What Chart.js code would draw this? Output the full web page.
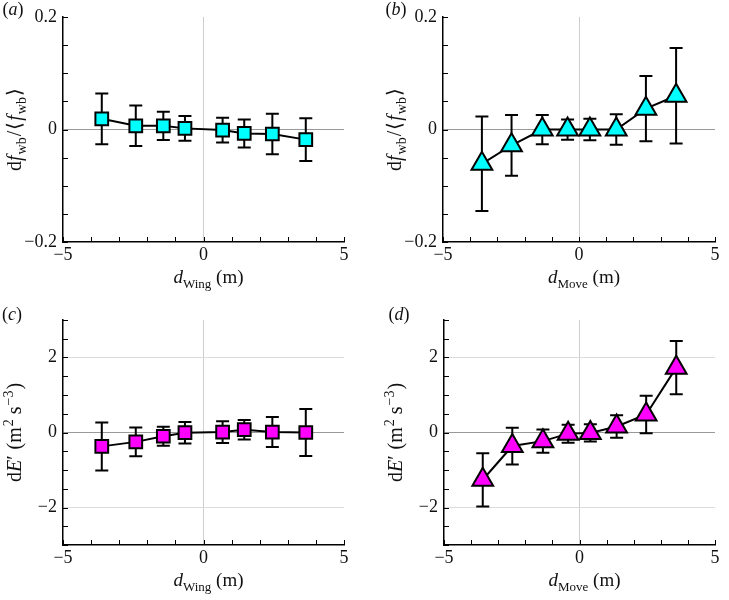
<!DOCTYPE html>
<html>
<head>
<meta charset="utf-8">
<script src="https://cdn.jsdelivr.net/npm/chart.js@4"></script>
<style>
  body { margin: 0; background: #fff; }
  #wrap { position: relative; width: 729px; height: 600px; }
  .panel { position: absolute; }
</style>
</head>
<body>
<div id="wrap">
  <div class="panel" style="left:0;top:0"><canvas id="chartA" width="364" height="300"></canvas></div>
  <div class="panel" style="left:364px;top:0"><canvas id="chartB" width="365" height="300"></canvas></div>
  <div class="panel" style="left:0;top:300px"><canvas id="chartC" width="364" height="300"></canvas></div>
  <div class="panel" style="left:364px;top:300px"><canvas id="chartD" width="365" height="300"></canvas></div>
</div>
<script>
// positions of the wing / move bins (m)
const wingX = [-3.62, -2.41, -1.43, -0.66, 0.68, 1.45, 2.45, 3.64];
const moveX = [-3.57, -2.48, -1.35, -0.42, 0.40, 1.37, 2.46, 3.57];

// (a) df_wb/<f_wb> vs d_Wing
const freqWing = [0.019, 0.0065, 0.0065, 0.002, -0.001, -0.007, -0.008, -0.018];
const freqWingErr = [0.045, 0.036, 0.025, 0.022, 0.022, 0.025, 0.036, 0.038];
// (b) df_wb/<f_wb> vs d_Move
const freqMove = [-0.061, -0.028, 0.0, 0.0, 0.0, 0.0, 0.037, 0.060];
const freqMoveErr = [0.084, 0.054, 0.026, 0.018, 0.019, 0.027, 0.058, 0.085];
// (c) dE' vs d_Wing
const dissWing = [-0.37, -0.25, -0.10, -0.005, 0.013, 0.076, 0.013, 0.0];
const dissWingErr = [0.64, 0.385, 0.255, 0.285, 0.29, 0.26, 0.40, 0.625];
// (d) dE' vs d_Move
const dissMove = [-1.26, -0.36, -0.23, -0.03, -0.013, 0.16, 0.48, 1.73];
const dissMoveErr = [0.71, 0.49, 0.31, 0.24, 0.23, 0.30, 0.50, 0.71];

const xTickLabels = [-5, 0, 5];
const freqTickLabels = [-0.2, 0, 0.2];
const dissTickLabels = [-2, 0, 2];

const serif = '"Liberation Serif", "Times New Roman", serif';
const TICK_FS = 18;

function fmt(v) {
    return v < 0 ? '\u2212' + String(-v) : String(v);
}
function isLabel(v, list) {
    return list.some(l => Math.abs(l - v) < 1e-9);
}

// draw a run of text pieces: {t, it, sub, sup}, centred on x
function setFont(ctx, s, fs) {
    const size = (s.sub || s.sup) ? Math.round(fs * 0.68) : fs;
    ctx.font = (s.it ? 'italic ' : '') + size + 'px ' + serif;
}
function drawRich(ctx, segs, x, y, fs) {
    let w = 0;
    segs.forEach(s => { setFont(ctx, s, fs); w += ctx.measureText(s.t).width + (s.gap || 0); });
    let cx = x - w / 2;
    segs.forEach(s => {
        setFont(ctx, s, fs);
        const dy = s.sub ? fs * 0.25 : (s.sup ? -fs * 0.4 : 0);
        ctx.fillText(s.t, cx, y + dy);
        cx += ctx.measureText(s.t).width + (s.gap || 0);
    });
}

const errorBars = {
    id: 'errorBars',
    beforeDatasetsDraw(chart) {
        const ctx = chart.ctx;
        const yScale = chart.scales.y;
        chart.data.datasets.forEach((ds, di) => {
            const meta = chart.getDatasetMeta(di);
            ctx.save();
            ctx.strokeStyle = '#000';
            ctx.lineWidth = 2;
            meta.data.forEach((pt, i) => {
                const v = ds.data[i].y, e = ds.errors[i];
                const top = yScale.getPixelForValue(v + e);
                const bot = yScale.getPixelForValue(v - e);
                ctx.beginPath();
                ctx.moveTo(pt.x, top); ctx.lineTo(pt.x, bot);
                ctx.moveTo(pt.x - 6.5, top); ctx.lineTo(pt.x + 6.5, top);
                ctx.moveTo(pt.x - 6.5, bot); ctx.lineTo(pt.x + 6.5, bot);
                ctx.stroke();
            });
            ctx.restore();
        });
    }
};

const decorations = {
    id: 'decorations',
    afterDraw(chart, args, opts) {
        const ctx = chart.ctx;
        const a = chart.chartArea;
        const xs = chart.scales.x, ys = chart.scales.y;
        ctx.save();
        // inward tick marks
        ctx.strokeStyle = '#000';
        ctx.lineWidth = 1;
        ctx.beginPath();
        xs.ticks.forEach(t => {
            const px = Math.round(xs.getPixelForValue(t.value)) + 0.5;
            ctx.moveTo(px, a.bottom); ctx.lineTo(px, a.bottom - 5);
        });
        ys.ticks.forEach(t => {
            const py = Math.round(ys.getPixelForValue(t.value)) + 0.5;
            ctx.moveTo(a.left, py); ctx.lineTo(a.left + 5, py);
        });
        ctx.stroke();

        ctx.fillStyle = '#111';
        ctx.textAlign = 'left';
        ctx.textBaseline = 'alphabetic';
        // panel letter
        drawRich(ctx, [{t: '('}, {t: opts.letter, it: true}, {t: ')'}], opts.letterX, opts.letterY, 18);
        // x title
        drawRich(ctx, opts.xTitle, (a.left + a.right) / 2 + 5, a.bottom + 41, 19);
        // y title (rotated)
        ctx.translate(a.left - 48, (a.top + a.bottom) / 2);
        ctx.rotate(-Math.PI / 2);
        drawRich(ctx, opts.yTitle, 0, 6, 20);
        ctx.restore();
    }
};

const xTitleWing = [{t: 'd', it: true}, {t: 'Wing', sub: true}, {t: ' (m)'}];
const xTitleMove = [{t: 'd', it: true}, {t: 'Move', sub: true}, {t: ' (m)'}];
const yTitleFreq = [{t: 'd'}, {t: 'f', it: true, gap: 1}, {t: 'wb', sub: true, gap: 1}, {t: '/', gap: 1}, {t: '\u27E8', gap: 1},
    {t: 'f', it: true, gap: 1}, {t: 'wb', sub: true, gap: 1}, {t: '\u27E9'}];
const yTitleDiss = [{t: 'd'}, {t: 'E', it: true}, {t: '\u2032', gap: 6}, {t: '(m', gap: 1}, {t: '2', sup: true, gap: 5},
    {t: 's', gap: 1}, {t: '\u22123', sup: true, gap: 1}, {t: ')'}];

function makePanel(id, xs, ys, errs, marker, color, yMin, yMax, yStep, yLabels, box, extra) {
    const canvas = document.getElementById(id);
    const points = xs.map((x, i) => ({x: x, y: ys[i]}));
    return new Chart(canvas, {
        type: 'scatter',
        data: {
            datasets: [{
                data: points,
                errors: errs,
                showLine: true,
                borderColor: '#000',
                borderWidth: 2,
                pointStyle: marker,
                pointRadius: marker === 'rect' ? 9 : 12,
                pointBackgroundColor: color,
                pointBorderColor: '#000',
                pointBorderWidth: 2,
                clip: false
            }]
        },
        options: {
            responsive: false,
            animation: false,
            devicePixelRatio: 1,
            layout: {padding: {top: box.top, right: box.right, left: 0, bottom: 0}},
            plugins: {
                legend: {display: false},
                tooltip: {enabled: false},
                decorations: extra
            },
            scales: {
                x: {
                    type: 'linear',
                    min: -5, max: 5,
                    afterFit: s => { s.height = box.xh; },
                    border: {display: true, color: '#000', width: 1.5},
                    grid: {
                        drawTicks: false,
                        color: c => c.tick && c.tick.value === 0 ? '#cfcfcf' : 'rgba(0,0,0,0)'
                    },
                    ticks: {
                        stepSize: 1,
                        autoSkip: false,
                        maxRotation: 0,
                        padding: 2,
                        color: '#111',
                        font: {family: serif, size: TICK_FS},
                        callback: v => isLabel(v, xTickLabels) ? fmt(v) : ''
                    }
                },
                y: {
                    min: yMin, max: yMax,
                    afterFit: s => { s.width = box.left; },
                    border: {display: true, color: '#000', width: 1.5},
                    grid: {
                        drawTicks: false,
                        color: c => {
                            if (!c.tick) return 'rgba(0,0,0,0)';
                            if (Math.abs(c.tick.value) < 1e-9) return '#999';
                            if (yStep === 0.5 && isLabel(c.tick.value, yLabels)) return '#dcdcdc';
                            return 'rgba(0,0,0,0)';
                        }
                    },
                    ticks: {
                        stepSize: yStep,
                        autoSkip: false,
                        padding: 6,
                        color: '#111',
                        font: {family: serif, size: TICK_FS},
                        callback: v => isLabel(v, yLabels) ? fmt(Math.round(v * 100) / 100) : ''
                    }
                }
            }
        },
        plugins: [errorBars, decorations]
    });
}

makePanel('chartA', wingX, freqWing, freqWingErr, 'rect', '#00FFFF', -0.2, 0.2, 0.05, freqTickLabels,
    {top: 17, right: 20, left: 63, xh: 58},
    {letter: 'a', letterX: 13, letterY: 15, xTitle: xTitleWing, yTitle: yTitleFreq});
makePanel('chartB', moveX, freqMove, freqMoveErr, 'triangle', '#00FFFF', -0.2, 0.2, 0.05, freqTickLabels,
    {top: 17, right: 6, left: 79, xh: 58},
    {letter: 'b', letterX: 32, letterY: 15, xTitle: xTitleMove, yTitle: yTitleFreq});
makePanel('chartC', wingX, dissWing, dissWingErr, 'rect', '#FF00FF', -3, 3, 0.5, dissTickLabels,
    {top: 20, right: 20, left: 63, xh: 55},
    {letter: 'c', letterX: 12, letterY: 20, xTitle: xTitleWing, yTitle: yTitleDiss});
makePanel('chartD', moveX, dissMove, dissMoveErr, 'triangle', '#FF00FF', -3, 3, 0.5, dissTickLabels,
    {top: 20, right: 4, left: 80, xh: 55},
    {letter: 'd', letterX: 35, letterY: 20, xTitle: xTitleMove, yTitle: yTitleDiss});
</script>
</body>
</html>
